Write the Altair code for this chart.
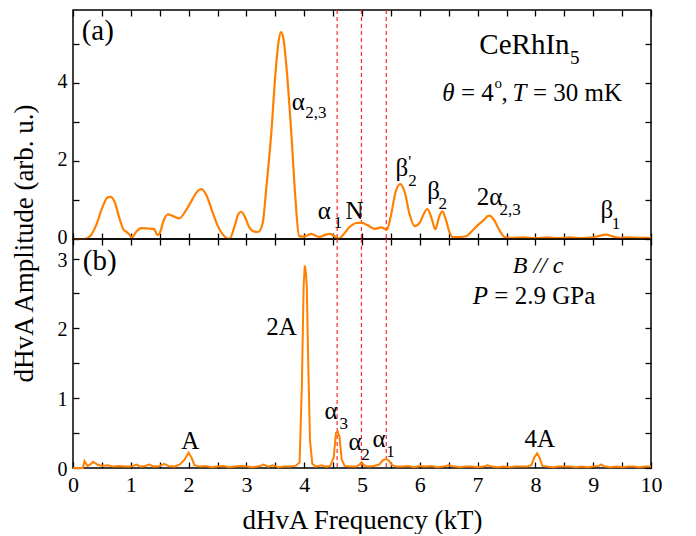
import altair as alt
import pandas as pd

# ---- Panel (a): dHvA spectrum, theta = 4 deg, T = 30 mK ----
a_freq = [0.0, 0.2, 0.3, 0.4, 0.5, 0.6, 0.65, 0.72, 0.8, 0.87, 0.92, 0.97, 1.02, 1.1, 1.18,
          1.3, 1.4, 1.46, 1.5, 1.57, 1.64, 1.74, 1.84, 1.94, 2.05, 2.15, 2.22, 2.3, 2.4, 2.5,
          2.59, 2.71, 2.8, 2.86, 2.91, 2.97, 3.05, 3.12, 3.2, 3.28, 3.35, 3.43, 3.5, 3.56, 3.6,
          3.64, 3.7, 3.78, 3.85, 3.91, 3.98, 4.05, 4.12, 4.19, 4.26, 4.35, 4.44, 4.52, 4.6,
          4.68, 4.78, 4.9, 4.99, 5.1, 5.22, 5.33, 5.43, 5.5, 5.58, 5.66, 5.74, 5.82, 5.91, 6.0,
          6.07, 6.13, 6.2, 6.27, 6.33, 6.39, 6.45, 6.52, 6.57, 6.7, 6.8, 6.9, 7.0, 7.1, 7.2,
          7.28, 7.38, 7.47, 7.6, 7.8, 8.0, 8.2, 8.4, 8.6, 8.8, 9.0, 9.1, 9.22, 9.35, 9.45,
          9.6, 9.8, 10.0]
a_amp = [0.0, 0.0, 0.08, 0.35, 0.78, 1.07, 1.08, 0.95, 0.55, 0.25, 0.19, 0.12, 0.04, 0.2, 0.28,
         0.27, 0.26, 0.1, 0.15, 0.48, 0.63, 0.58, 0.53, 0.7, 0.98, 1.22, 1.28, 1.15, 0.75, 0.35,
         0.12, 0.01, 0.35, 0.64, 0.70, 0.58, 0.3, 0.2, 0.18, 0.4, 1.4, 2.7, 4.2, 5.1, 5.31,
         5.15, 4.3, 2.65, 1.0, 0.08, 0.06, 0.09, 0.13, 0.09, 0.05, 0.1, 0.13, 0.08, 0.01,
         0.12, 0.3, 0.41, 0.42, 0.35, 0.26, 0.3, 0.24, 0.6, 1.2, 1.41, 1.2, 0.65, 0.33, 0.42,
         0.65, 0.77, 0.55, 0.25, 0.55, 0.71, 0.5, 0.15, 0.05, 0.05, 0.07, 0.2, 0.35, 0.48, 0.6,
         0.5, 0.22, 0.05, 0.03, 0.04, 0.02, 0.04, 0.02, 0.04, 0.02, 0.04, 0.08, 0.11, 0.06, 0.03,
         0.04, 0.03, 0.03]

# ---- Panel (b): dHvA spectrum, B // c, P = 2.9 GPa ----
b_freq = [0.0, 0.17, 0.2, 0.25, 0.3, 0.35, 0.42, 0.5, 0.6, 0.7, 0.8, 0.9, 1.0, 1.1, 1.17,
          1.25, 1.32, 1.4, 1.5, 1.58, 1.65, 1.75, 1.85, 1.93, 2.0, 2.05, 2.1, 2.2, 2.3, 2.4,
          2.5, 2.6, 2.7, 2.8, 2.9, 3.0, 3.1, 3.2, 3.3, 3.38, 3.45, 3.55, 3.65, 3.75, 3.85,
          3.92, 3.96, 3.99, 4.01, 4.03, 4.045, 4.07, 4.1, 4.14, 4.2, 4.3, 4.38, 4.45, 4.51,
          4.55, 4.58, 4.61, 4.65, 4.7, 4.8, 4.9, 4.96, 4.99, 5.03, 5.1, 5.2, 5.3, 5.36, 5.42,
          5.47, 5.52, 5.6, 5.7, 5.8, 5.9, 6.0, 6.1, 6.2, 6.3, 6.4, 6.5, 6.6, 6.7, 6.8, 6.9,
          7.0, 7.1, 7.17, 7.25, 7.35, 7.45, 7.55, 7.65, 7.75, 7.85, 7.93, 7.98, 8.03, 8.07,
          8.12, 8.2, 8.3, 8.4, 8.5, 8.6, 8.7, 8.8, 8.9, 9.0, 9.1, 9.14, 9.2, 9.3, 9.4, 9.5,
          9.6, 9.7, 9.8, 9.9, 10.0]
b_amp = [0.0, 0.0, 0.1, 0.03, 0.05, 0.09, 0.05, 0.03, 0.04, 0.02, 0.03, 0.02, 0.02, 0.05, 0.02,
         0.03, 0.05, 0.02, 0.03, 0.06, 0.03, 0.02, 0.05, 0.12, 0.22, 0.15, 0.04, 0.02, 0.03, 0.01,
         0.02, 0.03, 0.01, 0.02, 0.03, 0.02, 0.01, 0.02, 0.05, 0.02, 0.04, 0.01, 0.02, 0.02, 0.03,
         0.08, 1.2, 2.6, 2.9, 2.8, 2.6, 1.5, 0.4, 0.06, 0.02, 0.04, 0.02, 0.03, 0.15,
         0.5, 0.52, 0.45, 0.12, 0.03, 0.02, 0.02, 0.05, 0.08, 0.04, 0.02, 0.03, 0.05, 0.11, 0.13,
         0.1, 0.04, 0.02, 0.02, 0.03, 0.01, 0.03, 0.02, 0.03, 0.01, 0.02, 0.04, 0.02, 0.01, 0.02, 0.02,
         0.01, 0.02, 0.04, 0.02, 0.01, 0.02, 0.01, 0.02, 0.02, 0.02, 0.04, 0.15, 0.21, 0.15,
         0.03, 0.02, 0.01, 0.02, 0.02, 0.02, 0.01, 0.02, 0.01, 0.02, 0.03, 0.05, 0.02, 0.01, 0.02, 0.01,
         0.02, 0.02, 0.01, 0.02, 0.02]

# dashed guide lines (kT)
guide_freq = [4.57, 4.99, 5.42]

# tick values
x_ticks = [0, 0.5, 1, 1.5, 2, 2.5, 3, 3.5, 4, 4.5, 5, 5.5, 6, 6.5, 7, 7.5, 8, 8.5, 9, 9.5, 10]
ya_ticks = [0, 1, 2, 3, 4, 5]
yb_ticks = [0, 0.5, 1, 1.5, 2, 2.5, 3]

# annotations: text, x (kT), y (amplitude), font size
a_labels = [("(a)", 0.15, 5.12, 29), ("α", 3.785, 3.31, 25), ("2,3", 4.02, 3.10, 17),
            ("α", 4.235, 0.51, 25), ("1", 4.51, 0.28, 17), ("N", 4.715, 0.51, 25),
            ("β", 5.58, 1.63, 25), ("'", 5.8, 1.86, 17), ("2", 5.8, 1.37, 17),
            ("β", 6.13, 1.02, 25), ("2", 6.325, 0.76, 17),
            ("2α", 6.985, 0.865, 25), ("2,3", 7.38, 0.61, 17),
            ("β", 9.126, 0.53, 25), ("1", 9.32, 0.26, 17),
            ("CeRhIn", 7.03, 4.76, 29), ("5", 8.6, 4.50, 19),
            ("= 4", 6.713, 3.54, 25), ("o", 7.292, 3.87, 15), (",", 7.413, 3.54, 25),
            ("= 30 mK", 7.958, 3.54, 25)]
a_italic = [("θ", 6.387, 3.54, 25), ("T", 7.604, 3.54, 25)]

b_labels = [("(b)", 0.17, 2.84, 29), ("= 2.9 GPa", 7.29, 2.35, 25),
            ("2A", 3.343, 1.905, 25), ("A", 1.872, 0.277, 25),
            ("α", 4.35, 0.70, 25), ("3", 4.61, 0.565, 17),
            ("α", 4.766, 0.255, 25), ("2", 4.986, 0.113, 17),
            ("α", 5.18, 0.30, 25), ("1", 5.42, 0.16, 17),
            ("4A", 7.81, 0.30, 25)]
b_italic = [("B // c", 7.61, 2.79, 24), ("P", 6.917, 2.35, 25)]

FONT = "'Liberation Serif', 'Times New Roman', Times, 'DejaVu Serif', serif"
ORANGE = "#ff8000"
W, H = 578, 229


def ann_df(rows):
    return pd.DataFrame(rows, columns=["t", "x", "y", "s"])


def panel(freq, amp, ydom, yticks, ylab_expr, labels, italics, bottom, smooth, ytitle, loff):
    xs = alt.Scale(domain=[0, 10], nice=False)
    ys = alt.Scale(domain=ydom, nice=False, zero=True)
    xfmt = "datum.value % 1 == 0 ? format(datum.value, 'd') : ''"
    common = dict(offset=-6, tickSize=6, domain=False, grid=False, tickWidth=1.3,
                  tickColor="black")
    x_bottom = alt.Axis(orient="bottom", values=x_ticks, labels=bottom, labelExpr=xfmt,
                        labelPadding=6, titlePadding=12, **common)
    x_top = alt.Axis(orient="top", values=x_ticks, labels=False, **common)
    if ytitle:
        y_left = alt.Axis(orient="left", values=yticks, labelExpr=ylab_expr, labelPadding=6,
                          labelFontSize=20, labelOffset=loff, titleY=H + 4, titlePadding=19,
                          **common)
    else:
        y_left = alt.Axis(orient="left", values=yticks, labelExpr=ylab_expr, labelPadding=6,
                          labelFontSize=20, labelOffset=loff, **common)
    y_right = alt.Axis(orient="right", values=yticks, labels=False, **common)

    df = pd.DataFrame({"f": freq, "a": amp})
    if smooth:
        line_mark = alt.Chart(df).mark_line(color=ORANGE, strokeWidth=2.2, interpolate="monotone")
    else:
        line_mark = alt.Chart(df).mark_line(color=ORANGE, strokeWidth=2.0)
    line = line_mark.encode(
        x=alt.X("f:Q", scale=xs, axis=x_bottom,
                title="dHvA Frequency (kT)" if bottom else None),
        y=alt.Y("a:Q", scale=ys, axis=y_left,
                title="dHvA Amplitude (arb. u.)" if ytitle else None),
    )
    rules = alt.Chart(pd.DataFrame({"g": guide_freq})).mark_rule(
        color="#ff2a2a", strokeDash=[4, 3], strokeWidth=1.2
    ).encode(x=alt.X("g:Q", scale=xs, axis=None))
    txt = alt.Chart(ann_df(labels)).mark_text(
        align="left", baseline="alphabetic", font=FONT, color="black"
    ).encode(
        x=alt.X("x:Q", scale=xs, axis=x_top, title=None),
        y=alt.Y("y:Q", scale=ys, axis=y_right, title=None),
        text="t:N",
        size=alt.Size("s:Q", scale=None, legend=None),
    )
    itx = alt.Chart(ann_df(italics)).mark_text(
        align="left", baseline="alphabetic", font=FONT, color="black", fontStyle="italic"
    ).encode(
        x=alt.X("x:Q", scale=xs, axis=None),
        y=alt.Y("y:Q", scale=ys, axis=None),
        text="t:N",
        size=alt.Size("s:Q", scale=None, legend=None),
    )
    return alt.layer(rules, line, txt, itx).resolve_axis(
        x="independent", y="independent"
    ).properties(width=W, height=H)


top = panel(a_freq, a_amp, [0, 5.88], ya_ticks,
            "datum.value % 2 == 0 ? format(datum.value, 'd') : ''", a_labels, a_italic,
            bottom=False, smooth=True, ytitle=True, loff=-1.5)
bot = panel(b_freq, b_amp, [0, 3.28], yb_ticks,
            "datum.value % 1 == 0 ? format(datum.value, 'd') : ''", b_labels, b_italic,
            bottom=True, smooth=False, ytitle=False, loff=1.5)

chart = alt.vconcat(top, bot, spacing=0, bounds="flush").properties(
    padding={"left": 1, "top": 0, "right": 0, "bottom": 0}
).configure_axis(
    labelFont=FONT, titleFont=FONT, labelFontSize=22, titleFontSize=27,
    labelColor="black", titleColor="black", titleFontWeight="normal",
    labelFlush=False, labelOverlap=False
).configure_view(stroke="black", strokeWidth=1.5)

chart.save("out.html", embed_options={"renderer": "svg", "actions": False})
